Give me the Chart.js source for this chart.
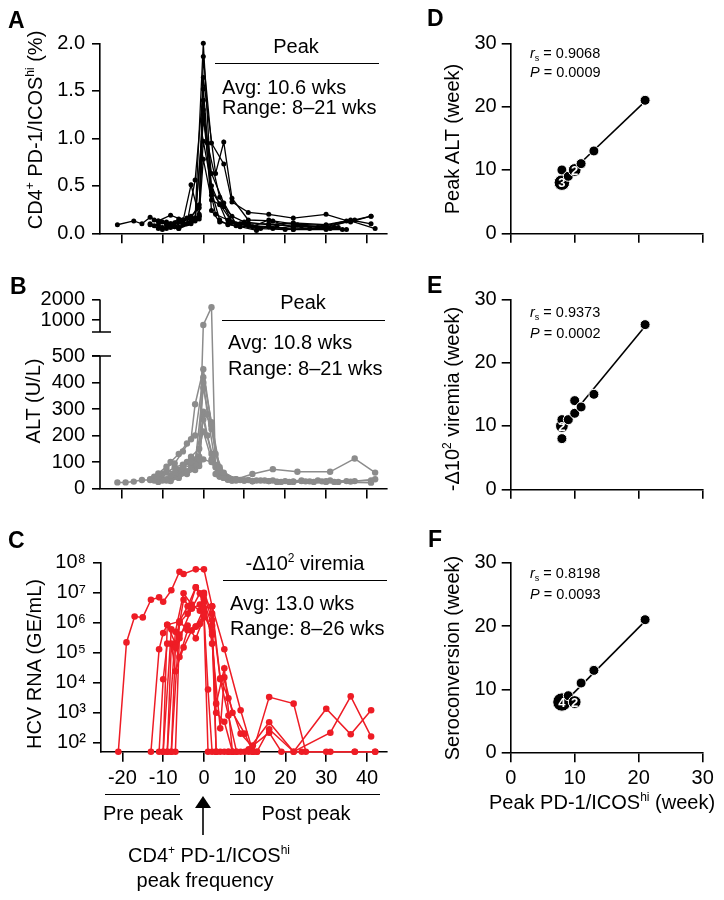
<!DOCTYPE html>
<html>
<head>
<meta charset="utf-8">
<script src="https://cdn.jsdelivr.net/npm/chart.js@4.4.0/dist/chart.umd.min.js"></script>
<style>
html, body { margin: 0; padding: 0; background: #fff; }
#wrap { position: relative; width: 724px; height: 900px; overflow: hidden; font-family: 'Liberation Sans', Arial, sans-serif; color: #000; }
#wrap canvas { position: absolute; left: 0; top: 0; }
.t { position: absolute; font-size: 20px; line-height: 20px; white-space: nowrap; }
.c { transform: translate(-50%, -50%); }
.l { transform: translateY(-50%); }
.vt { position: absolute; font-size: 20px; line-height: 20px; white-space: nowrap; transform: translate(-50%, -50%) rotate(-90deg); }
.hr { position: absolute; height: 0; border-top: 1.5px solid #000; }
.lab { position: absolute; font-weight: bold; font-size: 23px; line-height: 23px; transform: translateY(-50%); }
.st { position: absolute; font-size: 14.5px; line-height: 14.5px; white-space: nowrap; transform: translateY(-50%); }
.st sub { font-size: 9px; line-height: 0; vertical-align: -3px; }
.sp { font-size: 12px; line-height: 0; vertical-align: 8px; }
</style>
</head>
<body>
<div id="wrap">
  <canvas id="cA" width="724" height="900"></canvas>
  <canvas id="cB" width="724" height="900"></canvas>
  <canvas id="cC" width="724" height="900"></canvas>
  <canvas id="cD" width="724" height="900"></canvas>
  <canvas id="cE" width="724" height="900"></canvas>
  <canvas id="cF" width="724" height="900"></canvas>

  <div class="lab" style="left:8px;top:20px">A</div>
  <div class="lab" style="left:10px;top:286px">B</div>
  <div class="lab" style="left:8px;top:540px">C</div>
  <div class="lab" style="left:427px;top:18px">D</div>
  <div class="lab" style="left:427px;top:285px">E</div>
  <div class="lab" style="left:428px;top:539px">F</div>

  <div class="vt" style="left:35px;top:130px">CD4<span class="sp">+</span> PD-1/ICOS<span class="sp">hi</span> (%)</div>
  <div class="vt" style="left:33px;top:401px">ALT (U/L)</div>
  <div class="vt" style="left:34px;top:664px">HCV RNA (GE/mL)</div>
  <div class="vt" style="left:452px;top:139px">Peak ALT (week)</div>
  <div class="vt" style="left:452px;top:399px">-Δ10<span class="sp">2</span> viremia (week)</div>
  <div class="vt" style="left:452px;top:658px">Seroconversion (week)</div>
  <div class="t c" style="left:602px;top:802px">Peak PD-1/ICOS<span class="sp">hi</span> (week)</div>

  <div class="t c" style="left:296px;top:46px">Peak</div>
  <div class="hr" style="left:215px;top:63px;width:164px"></div>
  <div class="t l" style="left:222px;top:87px">Avg: 10.6 wks</div>
  <div class="t l" style="left:222px;top:107px">Range: 8–21 wks</div>

  <div class="t c" style="left:303px;top:302px">Peak</div>
  <div class="hr" style="left:222px;top:320px;width:163px"></div>
  <div class="t l" style="left:228px;top:342px">Avg: 10.8 wks</div>
  <div class="t l" style="left:228px;top:368px">Range: 8–21 wks</div>

  <div class="t c" style="left:305px;top:563px">-Δ10<span class="sp">2</span> viremia</div>
  <div class="hr" style="left:223px;top:580px;width:164px"></div>
  <div class="t l" style="left:230px;top:603px">Avg: 13.0 wks</div>
  <div class="t l" style="left:230px;top:628px">Range: 8–26 wks</div>

  <div class="hr" style="left:105px;top:794px;width:75px"></div>
  <div class="hr" style="left:230px;top:794px;width:150px"></div>
  <div class="t c" style="left:143px;top:813px">Pre peak</div>
  <div class="t c" style="left:306px;top:813px">Post peak</div>
  <svg style="position:absolute;left:190px;top:790px" width="26" height="50">
    <polygon points="13,6 5,18 21,18" fill="#000"/>
    <line x1="13" y1="16" x2="13" y2="45" stroke="#000" stroke-width="1.6"/>
  </svg>
  <div class="t c" style="left:209px;top:855px">CD4<span class="sp">+</span> PD-1/ICOS<span class="sp">hi</span></div>
  <div class="t c" style="left:205px;top:880px">peak frequency</div>

  <div class="st" style="left:530px;top:53px"><i>r</i><sub>s</sub> = 0.9068</div>
  <div class="st" style="left:530px;top:72px"><i>P</i> = 0.0009</div>
  <div class="st" style="left:530px;top:312px"><i>r</i><sub>s</sub> = 0.9373</div>
  <div class="st" style="left:530px;top:333px"><i>P</i> = 0.0002</div>
  <div class="st" style="left:530px;top:573px"><i>r</i><sub>s</sub> = 0.8198</div>
  <div class="st" style="left:530px;top:594px"><i>P</i> = 0.0093</div>
</div>

<script>
// weeks relative to the CD4+ PD-1/ICOShi peak, one list of [week, value] per subject
const weekTicks = [-20, -10, 0, 10, 20, 30, 40];

const cd4Ticks = [0, 0.5, 1.0, 1.5, 2.0];
const cd4Series = [
  [[-21,0.09],[-17,0.13],[-15,0.10],[-13,0.17],[-11,0.13],[-8,0.19],[-5,0.14],[-2,0.16],[0,2.00],[2,0.45],[4,0.31],[7,0.12],[11,0.08],[16,0.07],[22,0.04],[30,0.04],[35,0.04]],
  [[-13,0.09],[-11,0.05],[-8,0.07],[-6,0.05],[-3,0.10],[-1,0.15],[0,1.86],[2,0.95],[5,0.73],[7,0.33],[11,0.22],[16,0.20],[22,0.16],[30,0.20],[36,0.12],[41,0.18]],
  [[-11,0.13],[-9,0.09],[-7,0.07],[-5,0.12],[-3,0.51],[-1,0.18],[0,1.64],[3,0.63],[5,0.96],[7,0.37],[11,0.14],[17,0.13],[22,0.10],[30,0.08],[36,0.14],[41,0.10]],
  [[-10,0.04],[-8,0.10],[-6,0.15],[-4,0.10],[-2,0.56],[0,1.52],[2,0.44],[4,0.14],[6,0.09],[9,0.07],[13,0.03],[16,0.07],[22,0.04],[28,0.06],[34,0.04]],
  [[-12,0.08],[-9,0.12],[-7,0.07],[-5,0.14],[-3,0.18],[-1,0.27],[0,1.40],[2,0.24],[4,0.12],[8,0.08],[13,0.06],[18,0.08],[23,0.09],[30,0.06],[36,0.13],[42,0.05]],
  [[-13,0.10],[-10,0.06],[-8,0.08],[-6,0.12],[-3,0.15],[-1,0.18],[0,1.30],[2,0.63],[5,0.32],[8,0.10],[12,0.07],[16,0.14],[22,0.06],[31,0.05]],
  [[-11,0.09],[-9,0.05],[-7,0.11],[-4,0.16],[-2,0.13],[0,1.25],[2,0.40],[3,0.20],[6,0.14],[9,0.10],[14,0.05],[20,0.04],[26,0.05],[32,0.06]],
  [[-10,0.12],[-8,0.06],[-5,0.09],[-2,0.14],[0,1.19],[1,0.95],[4,0.38],[7,0.12],[11,0.09],[17,0.05],[24,0.08],[33,0.06]],
  [[-12,0.14],[-9,0.10],[-6,0.06],[-4,0.10],[-1,0.30],[0,0.97],[2,0.50],[4,0.30],[6,0.10],[10,0.12],[16,0.09],[22,0.11],[30,0.09],[35,0.13]],
  [[-8,0.10],[-6,0.05],[-3,0.12],[-1,0.20],[0,0.78],[2,0.35],[5,0.28],[7,0.18],[11,0.10],[16,0.10],[22,0.07],[30,0.07],[37,0.14],[41,0.18]]
];

const altTicks = [0, 100, 200, 300, 400, 500, 1000, 2000];
const altSeries = [
  [[-21,23],[-19,23],[-17,26],[-15,32],[-13,32],[-11,57],[-9,82],[-7,95],[-5,140],[-3,186],[-2,318],[0,450],[2,240],[3,130],[5,60],[8,35],[12,55],[17,73],[23,63],[31,63],[37,113],[42,60]],
  [[-13,35],[-11,45],[-9,70],[-7,60],[-5,80],[-3,100],[-1,110],[0,760],[2,1620],[3,55],[5,40],[8,30],[12,28],[18,25],[25,27],[32,25],[41,22]],
  [[-12,30],[-10,55],[-8,100],[-6,130],[-4,170],[-2,200],[0,420],[2,250],[4,80],[6,35],[10,30],[16,28],[22,25],[30,28],[36,26],[42,35]],
  [[-11,40],[-9,60],[-7,80],[-5,90],[-3,120],[-1,150],[0,400],[1,280],[3,90],[6,40],[11,32],[17,30],[24,28],[31,30]],
  [[-10,30],[-8,50],[-6,70],[-4,65],[-2,95],[0,380],[2,225],[4,60],[7,35],[13,30],[20,28],[28,30],[35,28]],
  [[-12,45],[-9,35],[-7,55],[-5,75],[-3,90],[-1,100],[0,290],[2,240],[4,70],[8,35],[14,30],[21,25],[29,27]],
  [[-9,30],[-7,45],[-5,60],[-3,75],[-1,85],[0,280],[1,200],[3,80],[5,40],[9,32],[15,30],[22,27],[30,25],[37,28]],
  [[-11,25],[-8,40],[-6,50],[-4,100],[-2,110],[0,260],[2,130],[4,50],[7,30],[12,28],[19,25],[26,27]],
  [[-10,35],[-8,30],[-6,45],[-4,60],[-2,90],[0,215],[2,110],[4,45],[6,33],[10,30],[16,28],[24,30],[33,25]],
  [[-8,28],[-6,40],[-4,55],[-2,70],[-1,120],[0,110],[2,100],[4,45],[7,30],[12,27],[18,26],[27,25],[41,30]]
];

// 50 GE/mL = below detection, drawn on the axis
const hcvTicks = [1e2, 1e3, 1e4, 1e5, 1e6, 1e7, 1e8];
const hcvSeries = [
  [[-21,50],[-19,2.2e5],[-17,1.6e6],[-15,1.5e6],[-13,5.8e6],[-11,7e6],[-10,5e6],[-8,1.2e7],[-6,5e7],[-5,4.2e7],[-2,6e7],[0,6e7],[2,3.5e6],[5,1.3e5],[9,1.2e3],[12,50],[16,3300],[22,2000],[25,50],[31,50],[37,50],[42,50]],
  [[-13,50],[-11,1.3e5],[-10,4.5e5],[-9,8.5e5],[-6,1.1e6],[-4,3.5e6],[-2,1.5e7],[0,8.5e6],[2,1.2e6],[3,50],[5,50],[8,50],[11,60],[16,480],[22,50],[30,1350],[36,190],[41,1200]],
  [[-11,50],[-10,1.3e4],[-9,2e5],[-7,1.5e5],[-5,5.8e6],[-3,3e6],[-1,9.5e6],[0,3e6],[2,3.5e6],[4,1.4e4],[6,3e3],[9,200],[13,50],[16,280],[22,50],[31,215],[36,3500],[41,160]],
  [[-10,50],[-9,8.5e5],[-7,2e5],[-6,1.1e6],[-4,5.7e5],[-2,7.4e5],[0,1.8e6],[2,5e5],[3,50],[6,50],[9,50],[12,80],[16,215],[19,50],[24,50],[30,50],[37,50],[42,50]],
  [[-9,50],[-8,2e5],[-7,2.4e4],[-5,1.5e5],[-3,5.5e5],[-1,9e5],[0,2e6],[1,5.9e3],[2,50],[4,50],[7,50]],
  [[-8,50],[-7,1.5e5],[-6,7.2e4],[-4,5.7e5],[-2,7.4e5],[0,3e6],[2,4e5],[3,2e3],[5,3e4],[7,50],[10,50]],
  [[-9,50],[-7,5e5],[-5,9.5e6],[-3,4e6],[-1,2.5e6],[0,1e7],[2,2e6],[4,1.3e4],[6,800],[8,50],[11,50]],
  [[-8,50],[-6,1e6],[-4,2e6],[-2,1.5e7],[0,5e6],[2,8e5],[3,1e3],[5,500],[7,50],[12,50]],
  [[-10,50],[-8,6e5],[-6,3e5],[-3,3e6],[-1,4e6],[0,6e6],[2,2e5],[4,300],[5,1.5e4],[7,1e3],[10,200],[12,50]],
  [[-7,50],[-6,4e5],[-4,8e5],[-2,3e5],[0,1.5e6],[1,50],[3,50],[6,50],[13,50]]
];

// correlation panels (weeks); count = subjects sharing the point
const corrTicks = [0, 10, 20, 30];
const peakWeekD = [8, 8, 9, 10, 11, 13, 21];
const altWeekD = [8, 10, 9, 10, 11, 13, 21];
const countD = [3, 1, 1, 2, 1, 1, 1];
const peakWeekE = [8, 8, 8, 9, 10, 10, 11, 13, 21];
const viremiaWeekE = [8, 10, 11, 11, 12, 14, 13, 15, 26];
const countE = [1, 2, 1, 1, 1, 1, 1, 1, 1];
const peakWeekF = [8, 9, 10, 11, 13, 21];
const seroWeekF = [8, 9, 8, 11, 13, 21];
const countF = [4, 1, 2, 1, 1, 1];

Chart.defaults.font.family = "'Liberation Sans', Arial, sans-serif";
Chart.defaults.font.size = 20;
Chart.defaults.color = '#000';

const RED = 'rgb(238,28,37)';
const GREY = 'rgb(140,140,140)';

// y scale with a gap between 500 and 1000 (panel B)
class BrokenScale extends Chart.LinearScale {
  getPixelForValue(value) {
    const h = this.bottom - this.top;
    let frac;
    if (value <= 500) frac = 0.701 * value / 500;
    else frac = 1 - 0.1085 * (2000 - value) / 1000;
    return this.bottom - frac * h;
  }
  getValueForPixel(pixel) {
    const frac = (this.bottom - pixel) / (this.bottom - this.top);
    if (frac <= 0.701) return frac / 0.701 * 500;
    return 2000 - (1 - frac) / 0.1085 * 1000;
  }
}
BrokenScale.id = 'broken';
BrokenScale.defaults = Chart.LinearScale.defaults;
Chart.register(BrokenScale);

function pinBox(size) {
  return function (s) {
    if (s.isHorizontal()) s.height = size; else s.width = size;
    s.paddingLeft = s.paddingRight = s.paddingTop = s.paddingBottom = 0;
  };
}

function setTicks(list) {
  return function (s) { s.ticks = list.map(v => ({ value: v })); };
}

function axis(tickLen, extra) {
  return Object.assign({
    border: { display: true, color: '#000', width: 1.6 },
    grid: { drawOnChartArea: false, drawTicks: true, tickLength: tickLen, color: '#000', lineWidth: 1.6 },
    ticks: { display: true, padding: 6, autoSkip: false, maxRotation: 0 }
  }, extra);
}

function seriesSets(list, color, radius, width) {
  return list.map(pts => ({
    data: pts.map(p => ({ x: p[0], y: p[1] })),
    showLine: true,
    borderColor: color,
    backgroundColor: color,
    borderWidth: width,
    pointRadius: radius,
    pointBorderWidth: 0,
    pointBackgroundColor: color,
    clip: false
  }));
}

const baseOpts = {
  responsive: false,
  animation: false,
  devicePixelRatio: 1,
  events: [],
  plugins: { legend: { display: false }, tooltip: { enabled: false } }
};

function timeChart(id, datasets, yScale, area, extraPlugins) {
  const xAxis = axis(10, {
    type: 'linear', min: -25.25, max: 44.9,
    afterBuildTicks: setTicks(weekTicks),
    afterFit: pinBox(45)
  });
  xAxis.ticks = Object.assign({}, xAxis.ticks, area.xLabels ? { padding: 5 } : { display: false });
  return new Chart(document.getElementById(id), {
    type: 'scatter',
    data: { datasets: datasets },
    options: Object.assign({}, baseOpts, {
      layout: { padding: { left: 23, top: area.top, right: 724 - 387, bottom: 900 - area.bottom - 45 } },
      scales: { x: xAxis, y: yScale }
    }),
    plugins: extraPlugins || []
  });
}

// A
timeChart('cA', seriesSets(cd4Series, '#000', 2.5, 1.3), axis(8, {
  min: 0, max: 2,
  afterBuildTicks: setTicks(cd4Ticks),
  ticks: { padding: 7, callback: v => v.toFixed(1) },
  afterFit: pinBox(77)
}), { top: 43.3, bottom: 233.3 });

// B
const axisBreak = {
  id: 'axisBreak',
  afterDraw(chart) {
    const y = chart.scales.y, ctx = chart.ctx, x0 = chart.chartArea.left;
    const topPix = y.getPixelForValue(altTicks[altTicks.length - 1]);
    const gapTop = y.top + 0.172 * (y.bottom - y.top);
    const gapBottom = y.getPixelForValue(500);
    ctx.save();
    ctx.strokeStyle = '#000';
    ctx.lineWidth = 1.6;
    ctx.beginPath();
    ctx.moveTo(x0, topPix); ctx.lineTo(x0, gapTop);
    ctx.moveTo(x0 - 8, gapTop); ctx.lineTo(x0 + 11, gapTop);
    ctx.moveTo(x0, gapBottom); ctx.lineTo(x0, y.bottom);
    ctx.moveTo(x0 - 8, gapBottom); ctx.lineTo(x0 + 11, gapBottom);
    ctx.stroke();
    ctx.restore();
  }
};
const altAxis = axis(8, {
  type: 'broken', min: 0, max: 2000,
  afterBuildTicks: setTicks(altTicks),
  ticks: { padding: 7, callback: v => String(v) },
  afterFit: pinBox(77)
});
altAxis.border = { display: false };
timeChart('cB', seriesSets(altSeries, GREY, 3.2, 1.5), altAxis, { top: 299.5, bottom: 488.5 }, [axisBreak]);

// C
const supDigits = ['⁰','¹','²','³','⁴','⁵','⁶','⁷','⁸','⁹'];
timeChart('cC', seriesSets(hcvSeries, RED, 3.3, 1.5), axis(8, {
  type: 'logarithmic', min: 50, max: 1e8,
  afterBuildTicks: setTicks(hcvTicks),
  ticks: { padding: 7, callback: v => '10' + supDigits[Math.round(Math.log10(v))] },
  afterFit: pinBox(78)
}), { top: 562.7, bottom: 751.7, xLabels: true });

// D-F
const countLabels = {
  id: 'countLabels',
  afterDatasetsDraw(chart, args, opts) {
    const meta = chart.getDatasetMeta(0), ctx = chart.ctx;
    ctx.save();
    ctx.fillStyle = '#fff';
    ctx.font = 'bold 13px "Liberation Sans", Arial, sans-serif';
    ctx.textAlign = 'center';
    ctx.textBaseline = 'middle';
    opts.counts.forEach((n, i) => {
      if (n > 1) ctx.fillText(String(n), meta.data[i].x, meta.data[i].y + 1);
    });
    ctx.restore();
  }
};

function fitLine(xs, ys, counts) {
  let n = 0, sx = 0, sy = 0, sxx = 0, sxy = 0;
  xs.forEach((x, i) => {
    const w = counts[i];
    n += w; sx += w * x; sy += w * ys[i]; sxx += w * x * x; sxy += w * x * ys[i];
  });
  const slope = (n * sxy - sx * sy) / (n * sxx - sx * sx);
  const icpt = (sy - slope * sx) / n;
  const lo = Math.min(...xs), hi = Math.max(...xs);
  return [{ x: lo, y: icpt + slope * lo }, { x: hi, y: icpt + slope * hi }];
}

function corrChart(id, xs, ys, counts, area) {
  const xAxis = axis(9.5, {
    min: 0, max: 30,
    afterBuildTicks: setTicks(corrTicks),
    afterFit: pinBox(45)
  });
  xAxis.ticks = Object.assign({}, xAxis.ticks, area.xLabels ? { padding: 4 } : { display: false });
  return new Chart(document.getElementById(id), {
    type: 'scatter',
    data: {
      datasets: [{
        data: xs.map((x, i) => ({ x: x, y: ys[i] })),
        pointRadius: counts.map(n => 5 + 1.4 * (n - 1)),
        pointBackgroundColor: '#000',
        pointBorderColor: '#fff',
        pointBorderWidth: 1,
        clip: false,
        order: 0
      }, {
        data: fitLine(xs, ys, counts),
        showLine: true,
        borderColor: '#000',
        borderWidth: 1.6,
        pointRadius: 0,
        clip: false,
        order: 1
      }]
    },
    options: Object.assign({}, baseOpts, {
      layout: { padding: { left: 440, top: area.top, right: 724 - 702.7, bottom: 900 - area.bottom - 45 } },
      plugins: { legend: { display: false }, tooltip: { enabled: false }, countLabels: { counts: counts } },
      scales: {
        x: xAxis,
        y: axis(9, {
          min: 0, max: 30,
          afterBuildTicks: setTicks(corrTicks),
          ticks: { padding: 5 },
          afterFit: pinBox(70.7)
        })
      }
    }),
    plugins: [countLabels]
  });
}

corrChart('cD', peakWeekD, altWeekD, countD, { top: 43.3, bottom: 233.3 });
corrChart('cE', peakWeekE, viremiaWeekE, countE, { top: 299.3, bottom: 489.3 });
corrChart('cF', peakWeekF, seroWeekF, countF, { top: 562.7, bottom: 752.7, xLabels: true });
</script>
</body>
</html>
